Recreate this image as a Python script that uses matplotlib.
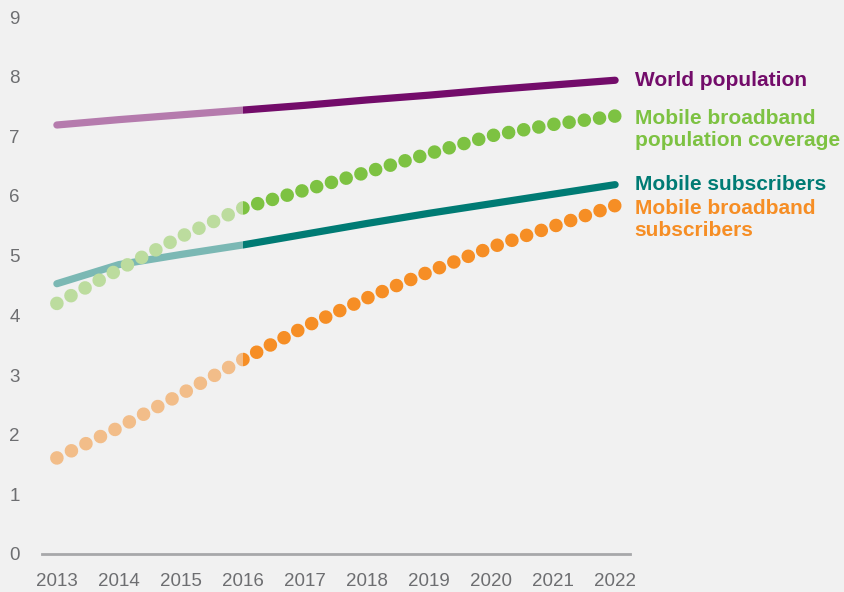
import numpy as np
import matplotlib.pyplot as plt
from matplotlib.patches import Rectangle

plt.rcParams['font.family'] = ['Liberation Sans', 'DejaVu Sans']

# --------------------- DATA (billions) ---------------------
years = [2013, 2014, 2015, 2016, 2017, 2018, 2019, 2020, 2021, 2022]
world_population = [7.19, 7.28, 7.36, 7.44, 7.52, 7.61, 7.69, 7.78, 7.86, 7.94]
mobile_subscribers = [4.53, 4.85, 5.02, 5.18, 5.36, 5.54, 5.71, 5.87, 6.03, 6.19]
mbb_coverage = [4.20, 4.77, 5.32, 5.80, 6.10, 6.40, 6.71, 7.01, 7.20, 7.34]
mbb_subscribers = [1.61, 2.12, 2.68, 3.26, 3.81, 4.29, 4.73, 5.14, 5.49, 5.84]
forecast_start = 2016

series = [
    # label, values, dark colour, light colour, dotted
    ('World population', world_population, '#730c6a', '#b57bad', False),
    ('Mobile broadband\npopulation coverage', mbb_coverage, '#7dc242', '#bcdc9e', True),
    ('Mobile subscribers', mobile_subscribers, '#007b74', '#7bb8b4', False),
    ('Mobile broadband\nsubscribers', mbb_subscribers, '#f68e25', '#f2bd89', True),
]

bg = '#f1f1f1'
dpi = 100
fig = plt.figure(figsize=(8.45, 5.92), dpi=dpi, facecolor=bg)
ax = fig.add_axes([42 / 845, 1 - 554 / 592, 588 / 845, 537 / 592], facecolor=bg)

x0, x1 = 2012.76, 2022.24
ax.set_xlim(x0, x1)
ax.set_ylim(0, 9)

DOT_LW = 9.8          # dot diameter in points
DOT_STEP = 15.6       # wanted distance between dot centres in pixels


def dot_style(xs, ys):
    # spread the dots evenly so that one falls on each end of the run
    pts = ax.transData.transform(np.column_stack([xs, ys]))
    length = np.hypot(*np.diff(pts, axis=0).T).sum()
    n = max(1, round(length / DOT_STEP))
    # shave a hair off the step so rounding never drops the last dot
    step = length / n / (DOT_LW * dpi / 72) * 0.999
    return dict(lw=DOT_LW, linestyle=(0, (0.001, step - 0.001)), dash_capstyle='round')


k = years.index(forecast_start)
for label, vals, dark, light, dotted in series:
    # historic part in light colour, forecast part in dark colour
    parts = [(light, years[:k + 1], vals[:k + 1], (x0 - 1, forecast_start)),
             (dark, years[k:], vals[k:], (forecast_start, x1 + 1))]
    for col, xs, ys, (a, b) in parts:
        if dotted:
            kw = dot_style(xs, ys)
        else:
            kw = dict(lw=5.2, solid_capstyle='round')
            xs, ys = years, vals
        ln, = ax.plot(xs, ys, color=col, zorder=3 if dotted else 2, **kw)
        ln.set_clip_path(Rectangle((a, -5), b - a, 20, transform=ax.transData))
    # first line of each label sits level with the end of its series
    two_lines = '\n' in label
    ax.annotate(label, xy=(years[-1], vals[-1]), xytext=(14, 5 if two_lines else 0),
                textcoords='offset points', color=dark, fontsize=15,
                fontweight='bold', va='top' if two_lines else 'center', ha='left',
                linespacing=1.2, annotation_clip=False)

for s in ['top', 'right', 'left']:
    ax.spines[s].set_visible(False)
ax.spines['bottom'].set_color('#a7a8aa')
ax.spines['bottom'].set_linewidth(2)

ax.set_xticks(years)
ax.set_yticks(range(0, 10))
ax.tick_params(axis='both', length=0, labelsize=13.5, labelcolor='#6d6e71')
ax.tick_params(axis='x', pad=14)
ax.tick_params(axis='y', pad=16)

fig.savefig('out.png', dpi=dpi, facecolor=bg)
